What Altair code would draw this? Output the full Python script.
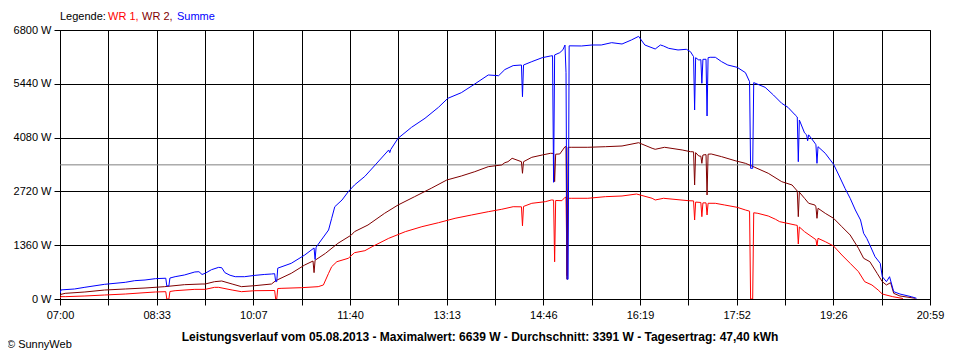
import altair as alt
import pandas as pd

# ---- data (time, watts) ----
wr1 = [("07:00",20),("07:01",60),("07:05",59),("07:24",76),("07:43",101),("08:03",126),("08:22",160),
       ("08:32",177),("08:42",185),("08:43",0),("08:45",0),("08:46",190),("08:51",210),("09:10",244),
       ("09:20",244),("09:29",295),("09:33",295),("09:46",227),("09:55",185),("10:08",210),("10:27",215),
       ("10:28",0),("10:29",0),("10:30",265),("10:34",270),("10:53",286),("11:09",312),("11:14",354),
       ("11:19",649),("11:22",817),("11:27",943),("11:38",1029),("11:44",1171),("11:54",1221),("12:01",1322),
       ("12:17",1534),("12:33",1702),("12:49",1828),("13:05",1929),("13:21",2040),("13:37",2124),("13:53",2207),
       ("14:06",2268),("14:17",2333),("14:25",2330),("14:26",1850),("14:27",2340),("14:35",2419),("14:48",2460),
       ("14:54",2503),("14:56",2500),("14:57",940),("14:58",2490),("15:04",2485),("15:07",2570),("15:08",2570),
       ("15:09",589),("15:10",2546),("15:13",2546),("15:29",2546),("15:46",2587),("16:02",2604),("16:16",2654),
       ("16:31",2546),("16:34",2503),("16:42",2546),("17:06",2485),("17:11",2480),("17:12",1997),("17:13",2450),
       ("17:18",2440),("17:19",2081),("17:20",2430),("17:23",2430),("17:24",2124),("17:25",2420),("17:32",2419),
       ("17:41",2376),("17:53",2318),("18:01",2250),("18:05",2220),("18:06",0),("18:08",0),("18:09",2180),
       ("18:13",2166),("18:23",2098),("18:30",2015),("18:34",1955),("18:49",1871),("18:51",1860),("18:52",1390),
       ("18:53",1820),("18:58",1702),("19:09",1500),("19:10",1340),("19:11",1534),("19:18",1449),("19:26",1340),
       ("19:34",1112),("19:42",902),("19:50",691),("19:56",438),("20:03",354),("20:09",227),("20:13",126),
       ("20:23",59),("20:32",17),("20:33",0)]

wr2 = [("07:00",60),("07:01",118),("07:05",143),("07:24",177),("07:43",227),("08:03",253),("08:22",278),
       ("08:41",312),("09:00",362),("09:17",379),("09:20",379),("09:29",438),("09:36",455),("09:46",379),
       ("09:55",312),("10:08",337),("10:24",379),("10:28",463),("10:43",649),("10:56",860),("11:04",960),
       ("11:05",666),("11:06",980),("11:16",1154),("11:28",1407),("11:41",1618),("11:44",1702),("11:57",1871),
       ("12:13",2166),("12:26",2376),("12:42",2587),("12:58",2799),("13:13",3008),("13:27",3109),("13:40",3218),
       ("13:53",3345),("14:06",3388),("14:09",3446),("14:12",3471),("14:16",3557),("14:25",3471),("14:26",3178),
       ("14:27",3471),("14:35",3582),("14:45",3640),("14:53",3683),("14:56",3680),("14:57",2966),("14:58",3660),
       ("15:02",3666),("15:07",3850),("15:08",3850),("15:09",498),("15:10",3835),("15:13",3835),("15:29",3835),
       ("15:46",3850),("16:02",3868),("16:18",3951),("16:31",3810),("16:34",3784),("16:43",3835),("17:00",3767),
       ("17:08",3724),("17:11",3720),("17:12",2882),("17:13",3700),("17:16",3615),("17:18",3610),("17:19",3430),
       ("17:20",3640),("17:23",3650),("17:24",2629),("17:25",3660),("17:28",3666),("17:38",3598),("17:51",3496),
       ("18:01",3430),("18:10",3329),("18:23",3178),("18:36",2966),("18:46",2882),("18:51",2730),("18:52",2081),
       ("18:53",2700),("18:58",2546),("19:02",2419),("19:08",2376),("19:09",2330),("19:10",2040),("19:11",2293),
       ("19:18",2166),("19:26",2040),("19:34",1828),("19:42",1618),("19:50",1282),("19:55",1029),("20:01",943),
       ("20:08",649),("20:13",438),("20:17",354),("20:21",413),("20:24",143),("20:30",76),("20:45",17)]

summe = [("07:00",150),("07:01",230),("07:14",253),("07:24",296),("07:43",371),("08:03",422),("08:12",463),
         ("08:22",480),("08:32",514),("08:42",525),("08:43",330),("08:45",330),("08:46",530),("08:51",564),
         ("09:00",607),("09:10",683),("09:14",690),("09:17",620),("09:20",650),("09:26",740),("09:33",800),
         ("09:36",790),("09:39",666),("09:44",600),("09:49",564),("09:58",564),("10:08",598),("10:17",620),
         ("10:24",632),("10:27",640),("10:28",440),("10:29",440),("10:30",780),("10:43",902),("10:56",1112),
         ("11:05",1290),("11:06",1000),("11:07",1310),("11:12",1491),("11:19",1744),("11:22",2040),("11:25",2333),
         ("11:32",2503),("11:38",2713),("11:44",2882),("11:54",3100),("12:04",3388),("12:17",3767),("12:18",3700),
         ("12:19",3780),("12:26",4062),("12:39",4340),("12:52",4568),("13:05",4846),("13:14",5073),("13:27",5215),
         ("13:40",5435),("13:53",5663),("14:03",5645),("14:09",5800),("14:13",5850),("14:17",5900),("14:25",5915),
         ("14:26",5114),("14:27",5915),("14:35",6000),("14:45",6100),("14:53",6143),("14:55",6150),("14:56",2950),
         ("14:57",6170),("15:02",6227),("15:05",6300),("15:07",6420),("15:08",5720),("15:09",500),("15:10",500),
         ("15:11",6400),("15:23",6396),("15:33",6421),("15:42",6421),("15:52",6480),("16:02",6446),("16:11",6547),
         ("16:18",6639),("16:24",6421),("16:34",6320),("16:39",6421),("16:42",6396),("16:47",6337),("16:56",6295),
         ("17:04",6312),("17:08",6252),("17:11",6126),("17:12",4778),("17:13",6100),("17:16",6042),("17:18",6050),
         ("17:19",5453),("17:20",6059),("17:23",6060),("17:24",4626),("17:25",6100),("17:27",6110),("17:32",6110),
         ("17:38",6000),("17:44",5915),("17:53",5857),("18:01",5722),("18:05",5494),("18:06",3304),("18:08",3304),
         ("18:09",5470),("18:20",5351),("18:28",5157),("18:36",4947),("18:42",4846),("18:49",4652),("18:51",4600),
         ("18:52",3471),("18:53",4525),("18:58",4200),("19:00",4150),("19:01",4000),("19:02",4150),("19:08",3940),
         ("19:09",3900),("19:10",3430),("19:11",3850),("19:18",3683),("19:26",3405),("19:31",3135),("19:37",2799),
         ("19:42",2546),("19:47",2250),("19:52",1997),("19:55",1661),("19:58",1534),("20:01",1365),("20:06",1070),
         ("20:11",902),("20:13",564),("20:17",438),("20:20",564),("20:24",185),("20:30",126),("20:41",58),
         ("20:46",17)]

series_names = ["WR 1", "WR 2", "Summe"]
series_colors = ["#FF0000", "#800000", "#0000FF"]
x_tick_labels = ["07:00", "08:33", "10:07", "11:40", "13:13", "14:46", "16:19", "17:52", "19:26", "20:59"]
y_ticks = [0, 1360, 2720, 4080, 5440, 6800]
avg_w = 3391
title_text = "Leistungsverlauf vom 05.08.2013 - Maximalwert: 6639 W - Durchschnitt: 3391 W - Tagesertrag: 47,40 kWh"

# ---- build table ----
def to_min(s):
    h, m = s.split(":")
    return int(h) * 60 + int(m) - 7 * 60

rows = []
for name, data in zip(series_names, [wr1, wr2, summe]):
    for t, w in data:
        rows.append({"series": name, "t": to_min(t), "w": w})
df = pd.DataFrame(rows)

span = 20 * 60 + 59 - 7 * 60  # 839 minutes
step = span / 18
x_vals = [k * step for k in range(19)]
lab_list = []
for k in range(19):
    lab_list.append(x_tick_labels[k // 2] if k % 2 == 0 else "")
label_expr = "[" + ",".join("'%s'" % l for l in lab_list) + "][round(datum.value/%f)]" % step

FONT = "Liberation Sans"
W, H = 870, 269

x_enc = alt.X("t:Q", scale=alt.Scale(domain=[0, span], nice=False, zero=False),
              axis=alt.Axis(values=x_vals, labelExpr=label_expr, title=None, grid=True,
                            gridColor="black", gridOpacity=1, domainColor="black",
                            tickColor="black", tickSize=6, labelPadding=4, labelFlush=False,
                            labelOverlap=False, labelFont=FONT, labelFontSize=11, labelColor="black"))
y_enc = alt.Y("w:Q", scale=alt.Scale(domain=[0, 6800], nice=False),
              axis=alt.Axis(values=y_ticks, labelExpr="datum.value + ' W'", title=None, grid=True,
                            gridColor="black", gridOpacity=1, domainColor="black",
                            tickColor="black", tickSize=6, labelPadding=3,
                            labelFont=FONT, labelFontSize=11, labelColor="black"))

lines = alt.Chart(df).mark_line(strokeWidth=1, interpolate="linear", clip=True).encode(
    x=x_enc, y=y_enc,
    color=alt.Color("series:N", scale=alt.Scale(domain=series_names, range=series_colors), legend=None),
    order=alt.Order("t:Q"),
)

avg_rule = alt.Chart(pd.DataFrame({"w": [avg_w]})).mark_rule(color="#808080", strokeWidth=1).encode(
    y=alt.Y("w:Q", scale=alt.Scale(domain=[0, 6800], nice=False))
)

one = pd.DataFrame({"a": [0]})

def txt(text, x, y, color="black", bold=False, align="left", size=11):
    return alt.Chart(one).mark_text(
        font=FONT, fontSize=size, color=color, align=align, baseline="middle",
        fontWeight="bold" if bold else "normal",
    ).encode(x=alt.value(x), y=alt.value(y), text=alt.value(text))

legend_parts = [
    txt("Legende:", 0, -13),
    txt("WR 1,", 48, -13, series_colors[0]),
    txt("WR 2,", 82, -13, series_colors[1]),
    txt("Summe", 117, -13, series_colors[2]),
]
title_mark = txt(title_text, 420, 307, bold=True, align="center", size=12)
copy_mark = txt("\u00a9 SunnyWeb", -53, 315)

chart = alt.layer(avg_rule, lines, *legend_parts, title_mark, copy_mark).properties(
    width=W, height=H,
    autosize=alt.AutoSizeParams(type="none"),
    padding={"left": 52, "top": 22, "right": 22, "bottom": 53},
    background="white",
).configure_view(stroke="black", strokeWidth=1)

chart.save("out.html", embed_options={"renderer": "svg", "actions": False})
